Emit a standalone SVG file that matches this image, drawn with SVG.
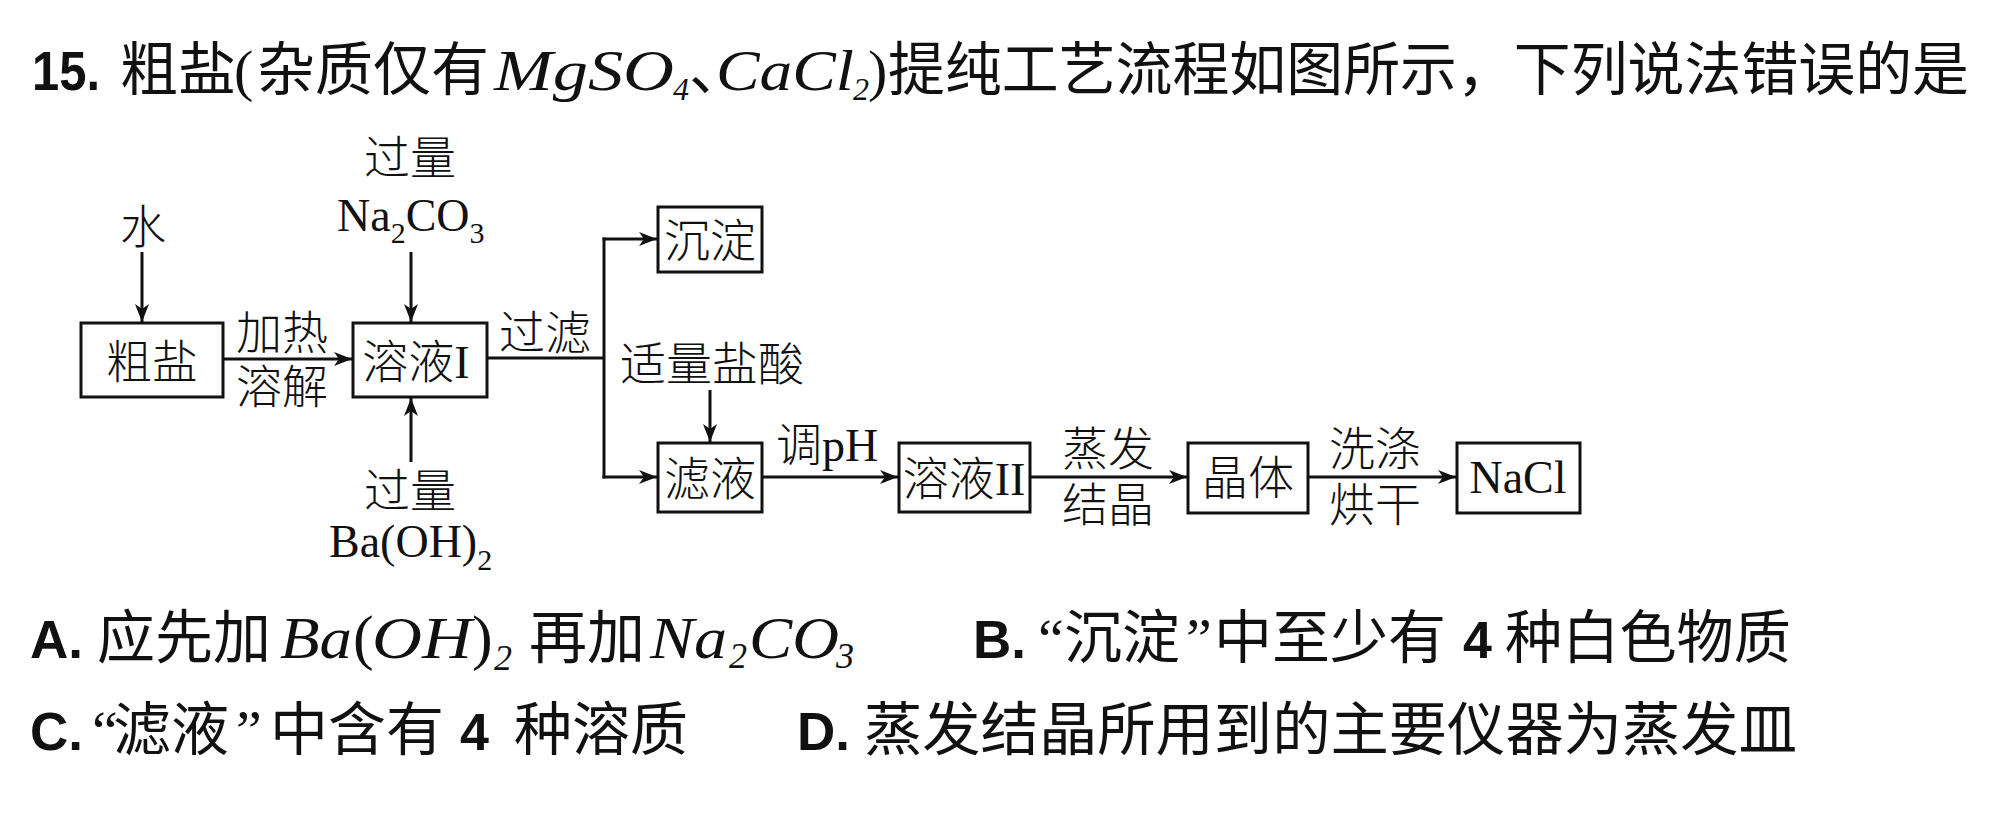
<svg xmlns="http://www.w3.org/2000/svg" width="2000" height="818" viewBox="0 0 2000 818">
<defs>
<style>
.cj{font-family:"Noto Sans CJK SC","Noto Sans CJK JP",sans-serif;fill:#111;}
.q{font-size:58px;}
.bd{font-family:"Liberation Sans","DejaVu Sans",sans-serif;font-weight:bold;fill:#111;}
.mi{font-family:"Liberation Serif","DejaVu Serif",serif;font-style:italic;fill:#111;}
.mu{font-family:"Liberation Serif","DejaVu Serif",serif;fill:#111;}
.dc{font-family:"Noto Sans CJK SC",sans-serif;font-weight:300;font-size:46px;fill:#111;}
.dl{font-family:"Liberation Serif","Times New Roman",serif;font-size:46px;fill:#111;}
.box{fill:#fff;stroke:#111;stroke-width:3;}
.ln{fill:none;stroke:#111;stroke-width:3;}
.ar{fill:none;stroke:#111;stroke-width:3;marker-end:url(#ah);}
</style>
<marker id="ah" viewBox="0 0 18 14" refX="18" refY="7" markerWidth="18" markerHeight="14" orient="auto" markerUnits="userSpaceOnUse">
<path d="M0,0 L18,7 L0,14 L5,7 z" fill="#111"/>
</marker>
</defs>
<rect x="0" y="0" width="2000" height="818" fill="#fff"/>

<g id="title">
<text class="bd" x="32" y="90" font-size="56" textLength="68" lengthAdjust="spacingAndGlyphs">15.</text>
<text class="cj" x="120" y="90" font-size="58">粗盐</text>
<text class="mu" x="234" y="90" font-size="58">(</text>
<text class="cj" x="257" y="90" font-size="58">杂质仅有</text>
<text class="mi" x="494" y="90" font-size="58" textLength="180" lengthAdjust="spacingAndGlyphs">MgSO</text>
<text class="mi" x="673" y="100" font-size="32">4</text>
<text class="cj" x="689" y="90" font-size="58">、</text>
<text class="mi" x="716" y="90" font-size="58" textLength="138" lengthAdjust="spacingAndGlyphs">CaCl</text>
<text class="mi" x="853" y="100" font-size="32">2</text>
<text class="mu" x="868" y="90" font-size="58">)</text>
<text class="cj" x="888" y="90" font-size="58" textLength="1081" lengthAdjust="spacingAndGlyphs">提纯工艺流程如图所示，下列说法错误的是</text>
</g>

<g id="connectors">
<path class="ar" d="M142,252 V322"/>
<path class="ar" d="M223,359 H352"/>
<path class="ar" d="M411,252 V322"/>
<path class="ar" d="M411,462 V398"/>
<path class="ln" d="M487,358 H604"/>
<path class="ln" d="M604,237.5 V478.5"/>
<path class="ar" d="M602.5,239 H657"/>
<path class="ar" d="M602.5,477 H657"/>
<path class="ar" d="M710,390 V442"/>
<path class="ar" d="M762,477 H898"/>
<path class="ar" d="M1030,477 H1187"/>
<path class="ar" d="M1308,477 H1456"/>
</g>

<g id="node-cuyan">
<rect class="box" x="81" y="323" width="142" height="74"/>
<text class="dc" x="152" y="378" text-anchor="middle">粗盐</text>
</g>
<g id="node-rongye1">
<rect class="box" x="353" y="323" width="134" height="74"/>
<text x="416" y="378" text-anchor="middle"><tspan class="dc">溶液</tspan><tspan class="dl">I</tspan></text>
</g>
<g id="node-chendian">
<rect class="box" x="658" y="207" width="104" height="65"/>
<text class="dc" x="710" y="257" text-anchor="middle">沉淀</text>
</g>
<g id="node-lvye">
<rect class="box" x="658" y="443" width="104" height="69"/>
<text class="dc" x="710" y="495" text-anchor="middle">滤液</text>
</g>
<g id="node-rongye2">
<rect class="box" x="899" y="443" width="131" height="69"/>
<text x="964" y="495" text-anchor="middle"><tspan class="dc">溶液</tspan><tspan class="dl">II</tspan></text>
</g>
<g id="node-jingti">
<rect class="box" x="1188" y="443" width="120" height="70"/>
<text class="dc" x="1248" y="494" text-anchor="middle">晶体</text>
</g>
<g id="node-nacl">
<rect class="box" x="1457" y="443" width="123" height="70"/>
<text class="dl" x="1518" y="493" text-anchor="middle">NaCl</text>
</g>

<g id="labels">
<text class="dc" x="143" y="243" text-anchor="middle">水</text>
<text class="dc" x="410" y="174" text-anchor="middle">过量</text>
<text class="dl" x="337" y="231">Na<tspan font-size="30" dy="12">2</tspan><tspan dy="-12">CO</tspan><tspan font-size="30" dy="12">3</tspan></text>
<text class="dc" x="282" y="349" text-anchor="middle">加热</text>
<text class="dc" x="282" y="403" text-anchor="middle">溶解</text>
<text class="dc" x="545" y="349" text-anchor="middle">过滤</text>
<text class="dc" x="410" y="507" text-anchor="middle">过量</text>
<text class="dl" x="329" y="557">Ba(OH)<tspan font-size="30" dy="13">2</tspan></text>
<text class="dc" x="712" y="380" text-anchor="middle">适量盐酸</text>
<text x="827" y="461" text-anchor="middle"><tspan class="dc">调</tspan><tspan class="dl">pH</tspan></text>
<text class="dc" x="1108" y="465" text-anchor="middle">蒸发</text>
<text class="dc" x="1108" y="521" text-anchor="middle">结晶</text>
<text class="dc" x="1375" y="465" text-anchor="middle">洗涤</text>
<text class="dc" x="1375" y="521" text-anchor="middle">烘干</text>
</g>

<g id="options">
<text class="bd" x="30" y="658" font-size="53">A.</text>
<text class="cj q" x="97" y="658">应先加</text>
<text class="mi" x="280" y="658" font-size="60" textLength="72" lengthAdjust="spacingAndGlyphs">Ba</text>
<text class="mu" x="353" y="658" font-size="62">(</text>
<text class="mi" x="372" y="658" font-size="60" textLength="100" lengthAdjust="spacingAndGlyphs">OH</text>
<text class="mu" x="472" y="658" font-size="62">)</text>
<text class="mi" x="494" y="670" font-size="36">2</text>
<text class="cj q" x="529" y="658">再加</text>
<text class="mi" x="650" y="658" font-size="60" textLength="77" lengthAdjust="spacingAndGlyphs">Na</text>
<text class="mi" x="729" y="668" font-size="36">2</text>
<text class="mi" x="749" y="658" font-size="60" textLength="90" lengthAdjust="spacingAndGlyphs">CO</text>
<text class="mi" x="836" y="668" font-size="36">3</text>

<text class="bd" x="973" y="658" font-size="53">B.</text>
<text class="mu" x="1038" y="658" font-size="58">“</text>
<text class="cj q" x="1064" y="658">沉淀</text>
<text class="mu" x="1186" y="658" font-size="58">”</text>
<text class="cj q" x="1214" y="658" textLength="232" lengthAdjust="spacingAndGlyphs">中至少有</text>
<text class="bd" x="1463" y="658" font-size="52">4</text>
<text class="cj q" x="1505" y="658" textLength="286" lengthAdjust="spacingAndGlyphs">种白色物质</text>

<text class="bd" x="30" y="750" font-size="53">C.</text>
<text class="mu" x="92" y="750" font-size="58">“</text>
<text class="cj q" x="113" y="750">滤液</text>
<text class="mu" x="236" y="750" font-size="58">”</text>
<text class="cj q" x="270" y="750">中含有</text>
<text class="bd" x="460" y="750" font-size="52">4</text>
<text class="cj q" x="514" y="750">种溶质</text>

<text class="bd" x="797" y="750" font-size="53">D.</text>
<text class="cj q" x="864" y="750" textLength="933" lengthAdjust="spacingAndGlyphs">蒸发结晶所用到的主要仪器为蒸发皿</text>
</g>
</svg>
